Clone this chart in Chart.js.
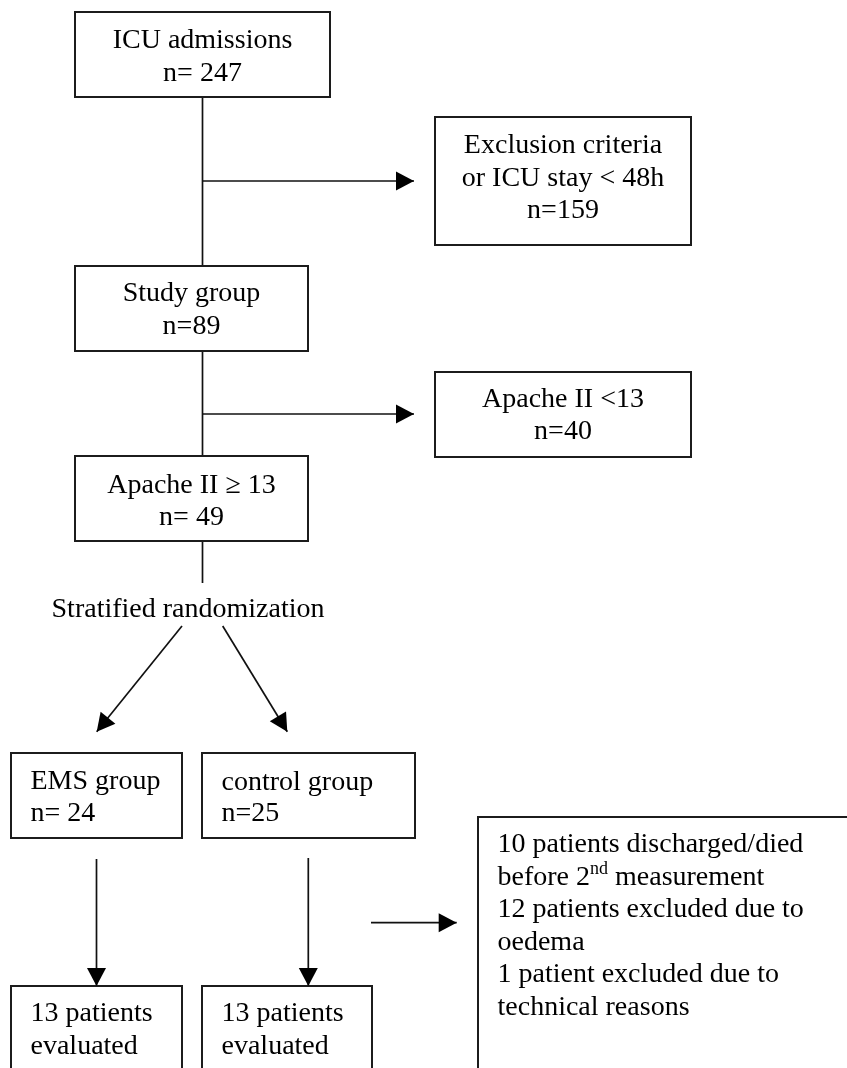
<!DOCTYPE html>
<html>
<head>
<meta charset="utf-8">
<script src="https://cdn.jsdelivr.net/npm/chart.js@4/dist/chart.umd.min.js"></script>
<style>
  html, body { margin: 0; padding: 0; background: #fff; }
  canvas { display: block; }
</style>
</head>
<body>
<canvas id="flow" width="847" height="1068"></canvas>
<script>
// flow chart content
const boxTexts = [
    ['ICU admissions', 'n= 247'],
    ['Exclusion criteria', 'or ICU stay < 48h', 'n=159'],
    ['Study group', 'n=89'],
    ['Apache II <13', 'n=40'],
    ['Apache II \u2265 13', 'n= 49'],
    ['EMS group', 'n= 24'],
    ['control group', 'n=25'],
    ['13 patients', 'evaluated'],
    ['13 patients', 'evaluated'],
    ['10 patients discharged/died', 'before 2^nd measurement', '12 patients excluded due to', 'oedema', '1 patient excluded due to', 'technical reasons']
];
const midLabel = 'Stratified randomization';

// layout (page units = pixels of the reference)
const boxRects = [
    [75, 12, 330, 97], [435, 117, 691, 245], [75, 266, 308, 351], [435, 372, 691, 457],
    [75, 456, 308, 541], [11, 753, 182, 838], [202, 753, 415, 838], [11, 986, 182, 1080],
    [202, 986, 372, 1080], [478, 817, 870, 1080]
];
const boxAlign = ['center', 'center', 'center', 'center', 'center', 'left', 'left', 'left', 'left', 'left'];
const firstBaseline = [48, 153, 301, 407, 492.5, 788.5, 789.5, 1021, 1021, 852];
const lineStep = [33, 32.5, 33, 32, 32.5, 32.5, 31.5, 33, 33, 32.5];
const links = [
    [[202.5, 97], [202.5, 266], false],
    [[202.5, 181], [414, 181], true],
    [[202.5, 351], [202.5, 456], false],
    [[202.5, 414], [414, 414], true],
    [[202.5, 541], [202.5, 583], false],
    [[182, 626], [96.7, 731.7], true],
    [[222.7, 626], [287.3, 731.7], true],
    [[96.5, 859], [96.5, 986], true],
    [[308.3, 858], [308.3, 986], true],
    [[371, 922.7], [456.7, 922.7], true]
];

const FONT = '28px "Liberation Serif", "Times New Roman", serif';

const datasets = [];
boxRects.forEach(r => {
    datasets.push({
        data: [{x: r[0], y: r[1]}, {x: r[2], y: r[1]}, {x: r[2], y: r[3]}, {x: r[0], y: r[3]}, {x: r[0], y: r[1]}, {x: r[2], y: r[1]}],
        showLine: true, borderColor: '#1c1c1c', borderWidth: 2, pointRadius: 0, tension: 0,
        borderJoinStyle: 'miter', borderCapStyle: 'square'
    });
});
links.forEach(l => {
    datasets.push({
        data: [{x: l[0][0], y: l[0][1]}, {x: l[1][0], y: l[1][1]}],
        showLine: true, borderColor: '#111', borderWidth: 1.7, pointRadius: 0
    });
});

const drawPlugin = {
    id: 'flowText',
    afterDatasetsDraw(chart) {
        const ctx = chart.ctx;
        const sx = chart.scales.x, sy = chart.scales.y;
        ctx.save();
        ctx.fillStyle = '#000';
        // arrow heads
        links.forEach(l => {
            if (!l[2]) return;
            const x0 = sx.getPixelForValue(l[0][0]), y0 = sy.getPixelForValue(l[0][1]);
            const x1 = sx.getPixelForValue(l[1][0]), y1 = sy.getPixelForValue(l[1][1]);
            const a = Math.atan2(y1 - y0, x1 - x0);
            const len = 18, hw = 9.5;
            ctx.beginPath();
            ctx.moveTo(x1, y1);
            ctx.lineTo(x1 - len * Math.cos(a) + hw * Math.sin(a), y1 - len * Math.sin(a) - hw * Math.cos(a));
            ctx.lineTo(x1 - len * Math.cos(a) - hw * Math.sin(a), y1 - len * Math.sin(a) + hw * Math.cos(a));
            ctx.closePath();
            ctx.fill();
        });
        // box texts
        ctx.font = FONT;
        ctx.textBaseline = 'alphabetic';
        boxTexts.forEach((lines, i) => {
            const r = boxRects[i];
            lines.forEach((t, j) => {
                const yy = sy.getPixelForValue(firstBaseline[i] + j * lineStep[i]);
                let xx;
                if (boxAlign[i] === 'center') {
                    ctx.textAlign = 'center';
                    xx = sx.getPixelForValue((r[0] + r[2]) / 2);
                } else {
                    ctx.textAlign = 'left';
                    xx = sx.getPixelForValue(r[0] + 19.5);
                }
                if (t.indexOf('^') >= 0) {
                    // superscript part, e.g. 2^nd
                    const parts = t.split('^');
                    const base = parts[0];
                    const sup = parts[1].slice(0, 2);
                    const rest = parts[1].slice(2);
                    ctx.textAlign = 'left';
                    ctx.fillText(base, xx, yy);
                    let cx = xx + ctx.measureText(base).width;
                    ctx.font = '18px "Liberation Serif", "Times New Roman", serif';
                    ctx.fillText(sup, cx, yy - 11);
                    cx += ctx.measureText(sup).width;
                    ctx.font = FONT;
                    ctx.fillText(rest, cx, yy);
                } else {
                    ctx.fillText(t, xx, yy);
                }
            });
        });
        // randomization label, bottom is clipped like in the original
        ctx.beginPath();
        ctx.rect(0, 0, chart.width, sy.getPixelForValue(617.5));
        ctx.clip();
        ctx.textAlign = 'center';
        ctx.fillText(midLabel, sx.getPixelForValue(188), sy.getPixelForValue(617));
        ctx.restore();
    }
};

new Chart(document.getElementById('flow').getContext('2d'), {
    type: 'scatter',
    data: { datasets: datasets },
    options: {
        responsive: false,
        animation: false,
        layout: { padding: 0 },
        plugins: { legend: { display: false }, tooltip: { enabled: false } },
        scales: {
            x: { type: 'linear', min: 0, max: 847, display: false },
            y: { type: 'linear', min: 0, max: 1068, reverse: true, display: false }
        }
    },
    plugins: [drawPlugin]
});
</script>
</body>
</html>
